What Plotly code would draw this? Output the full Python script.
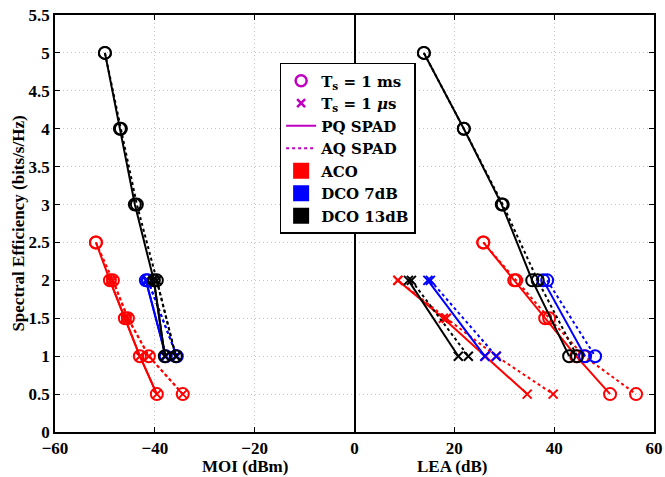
import plotly.graph_objects as go

# ---------------- data ----------------
# Spectral efficiency levels
se_aco_1ms = [2.5, 2, 1.5, 1, 0.5]
se_aco_1us = [2, 1.5, 1, 0.5]
se_dco7 = [2, 1]
se_dco13_1ms = [5, 4, 3, 2, 1]
se_dco13_1us = [2, 1]

# ACO, Ts = 1 ms
aco_1ms_pq_moi = [-51.8, -49.0, -46.0, -43.0, -39.6]
aco_1ms_pq_lea = [25.8, 32.0, 38.2, 44.4, 51.2]
aco_1ms_aq_moi = [-51.8, -48.4, -45.4, -41.2, -34.4]
aco_1ms_aq_lea = [25.8, 32.4, 39.0, 46.0, 56.4]
# ACO, Ts = 1 us
aco_1us_pq_moi = [-49.0, -46.0, -43.0, -39.6]
aco_1us_pq_lea = [8.7, 17.8, 26.2, 34.6]
aco_1us_aq_moi = [-48.4, -45.4, -41.2, -34.4]
aco_1us_aq_lea = [8.7, 18.4, 28.4, 39.8]
# DCO 7dB
dco7_1ms_pq_moi = [-41.8, -37.8]
dco7_1ms_pq_lea = [37.8, 46.2]
dco7_1ms_aq_moi = [-41.4, -35.6]
dco7_1ms_aq_lea = [38.6, 48.2]
dco7_1us_pq_moi = [-41.8, -37.8]
dco7_1us_pq_lea = [14.7, 26.1]
dco7_1us_aq_moi = [-41.4, -35.6]
dco7_1us_aq_lea = [15.2, 28.4]
# DCO 13dB
dco13_1ms_pq_moi = [-50.0, -47.0, -44.0, -40.2, -38.0]
dco13_1ms_pq_lea = [13.9, 21.9, 29.5, 35.6, 43.0]
dco13_1ms_aq_moi = [-50.0, -46.8, -43.6, -39.6, -35.8]
dco13_1ms_aq_lea = [13.9, 21.9, 29.7, 36.7, 44.6]
dco13_1us_pq_moi = [-40.2, -38.0]
dco13_1us_pq_lea = [10.8, 20.8]
dco13_1us_aq_moi = [-39.6, -35.8]
dco13_1us_aq_lea = [11.4, 22.8]

x_ticks = [-60, -40, -20, 0, 20, 40, 60]
y_ticks = [0, 0.5, 1, 1.5, 2, 2.5, 3, 3.5, 4, 4.5, 5, 5.5]

RED, BLUE, BLACK, MAG = "#ff0000", "#0000ff", "#000000", "#c000c0"
FONT = "Liberation Serif"
LFONT = "DejaVu Serif"
DASH = "3px,3px"

series = [
    (RED, se_aco_1ms, aco_1ms_pq_moi, aco_1ms_pq_lea, "solid", "circle-open"),
    (RED, se_aco_1ms, aco_1ms_aq_moi, aco_1ms_aq_lea, DASH, "circle-open"),
    (RED, se_aco_1us, aco_1us_pq_moi, aco_1us_pq_lea, "solid", "x-thin-open"),
    (RED, se_aco_1us, aco_1us_aq_moi, aco_1us_aq_lea, DASH, "x-thin-open"),
    (BLUE, se_dco7, dco7_1ms_pq_moi, dco7_1ms_pq_lea, "solid", "circle-open"),
    (BLUE, se_dco7, dco7_1ms_aq_moi, dco7_1ms_aq_lea, DASH, "circle-open"),
    (BLUE, se_dco7, dco7_1us_pq_moi, dco7_1us_pq_lea, "solid", "x-thin-open"),
    (BLUE, se_dco7, dco7_1us_aq_moi, dco7_1us_aq_lea, DASH, "x-thin-open"),
    (BLACK, se_dco13_1ms, dco13_1ms_pq_moi, dco13_1ms_pq_lea, "solid", "circle-open"),
    (BLACK, se_dco13_1ms, dco13_1ms_aq_moi, dco13_1ms_aq_lea, DASH, "circle-open"),
    (BLACK, se_dco13_1us, dco13_1us_pq_moi, dco13_1us_pq_lea, "solid", "x-thin-open"),
    (BLACK, se_dco13_1us, dco13_1us_aq_moi, dco13_1us_aq_lea, DASH, "x-thin-open"),
]

fig = go.Figure()
for color, se, moi, lea, dash, sym in series:
    size = 12 if sym == "circle-open" else 9
    for xs in (moi, lea):
        fig.add_trace(go.Scatter(
            x=xs, y=se, mode="lines+markers", showlegend=False,
            line=dict(color=color, width=2, dash=dash),
            marker=dict(symbol=sym, size=size, color=color,
                        line=dict(color=color, width=2)),
        ))

# legend entries
fig.add_trace(go.Scatter(x=[None], y=[None], mode="markers", name="T<sub>s</sub> = 1 ms",
                         marker=dict(symbol="circle-open", size=11, color=MAG, line=dict(width=2.5, color=MAG))))
fig.add_trace(go.Scatter(x=[None], y=[None], mode="markers", name="T<sub>s</sub> = 1 <i>μ</i>s",
                         marker=dict(symbol="x-thin-open", size=8, color=MAG, line=dict(width=2.5, color=MAG))))
fig.add_trace(go.Scatter(x=[None], y=[None], mode="lines", name="PQ SPAD",
                         line=dict(color=MAG, width=2)))
fig.add_trace(go.Scatter(x=[None], y=[None], mode="lines", name="AQ SPAD",
                         line=dict(color=MAG, width=2, dash=DASH)))
for c, n in [(RED, "ACO"), (BLUE, "DCO 7dB"), (BLACK, "DCO 13dB")]:
    fig.add_trace(go.Scatter(x=[None], y=[None], mode="markers", name=n,
                             marker=dict(symbol="square", size=16, color=c)))

axis_common = dict(
    showline=True, linecolor="black", linewidth=1.5, mirror="ticks",
    ticks="inside", ticklen=5, tickcolor="black", automargin=False,
    showgrid=True, gridcolor="#c4c4c4", griddash="1px,3px", gridwidth=1,
    tickfont=dict(family=FONT, size=17, color="black", weight="bold"),
)

fig.update_layout(
    width=665, height=477,
    margin=dict(l=55, r=11, t=15, b=45),
    paper_bgcolor="white", plot_bgcolor="white",
    font=dict(family=FONT, color="black"),
    xaxis=dict(range=[-60, 60], tickvals=x_ticks, zeroline=True,
               zerolinecolor="black", zerolinewidth=2, **axis_common),
    yaxis=dict(range=[0, 5.5], tickvals=y_ticks, zeroline=False,
               title=dict(text="<b>Spectral Efficiency (bits/s/Hz)</b>",
                          font=dict(family=FONT, size=17), standoff=0),
               **axis_common),
    legend=dict(x=0.375, y=0.885, xanchor="left", yanchor="top",
                bgcolor="white", bordercolor="black", borderwidth=1.5,
                font=dict(family=LFONT, size=15, color="black", weight="bold"),
                tracegroupgap=0, itemwidth=30),
    annotations=[
        dict(text="<b>MOI (dBm)</b>", x=-22, y=-0.055, xref="x", yref="paper",
             showarrow=False, yanchor="top", font=dict(family=FONT, size=17)),
        dict(text="<b>LEA (dB)</b>", x=19.5, y=-0.055, xref="x", yref="paper",
             showarrow=False, yanchor="top", font=dict(family=FONT, size=17)),
    ],
)

fig.write_html("out.html", config={"displayModeBar": False},
               post_script="document.body.style.margin='0';")
